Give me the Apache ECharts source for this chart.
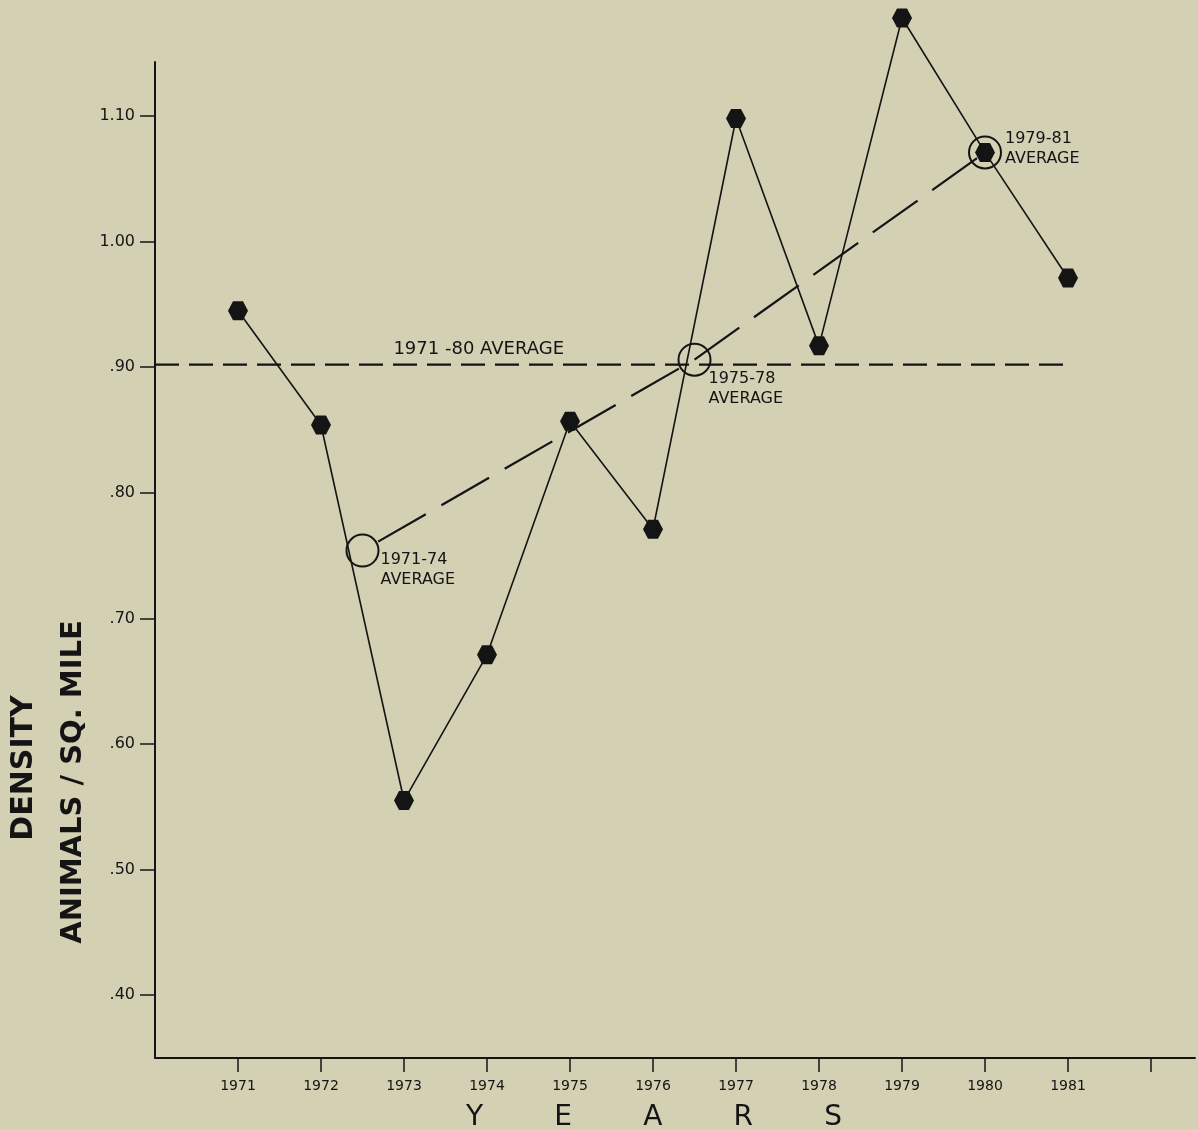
<!DOCTYPE html>
<html>
<head>
<meta charset="utf-8">
<script src="https://cdn.jsdelivr.net/npm/echarts@6/dist/echarts.min.js"></script>
<style>
  html, body { margin: 0; padding: 0; background: #d3d0b4; }
  #chart { width: 1198px; height: 1129px; }
</style>
</head>
<body>
<div id="chart"></div>
<script>
// ---- data ----
const years = [1971, 1972, 1973, 1974, 1975, 1976, 1977, 1978, 1979, 1980, 1981];
const density = [0.945, 0.854, 0.555, 0.671, 0.857, 0.771, 1.098, 0.917, 1.178, 1.071, 0.971];

const overallAvgLabel = '1971 -80 AVERAGE';
const overallAvgValue = 0.902;
const overallAvgSpan = [1970, 1981];
const overallAvgLabelYear = 1973.9;

const periodAvgYears = [1972.5, 1976.5, 1980];
const periodAvgValues = [0.754, 0.906, 1.071];
const periodAvgLabels = ['1971-74\nAVERAGE', '1975-78\nAVERAGE', '1979-81\nAVERAGE'];

const xTickValues = [1971, 1972, 1973, 1974, 1975, 1976, 1977, 1978, 1979, 1980, 1981, 1982];
const xLabelValues = [1971, 1972, 1973, 1974, 1975, 1976, 1977, 1978, 1979, 1980, 1981];
const yTickValues = [0.4, 0.5, 0.6, 0.7, 0.8, 0.9, 1.0, 1.1];
const yTickLabels = ['.40', '.50', '.60', '.70', '.80', '.90', '1.00', '1.10'];

const yTitleLines = ['DENSITY', 'ANIMALS / SQ. MILE'];
const xTitle = 'Y        E        A        R        S';

// ---- chart ----
const INK = '#141414';
const FONT = '"DejaVu Sans", "Liberation Sans", sans-serif';
const hexagon = 'path://M25,0 L75,0 L100,43.3 L75,86.6 L25,86.6 L0,43.3 Z';

const chart = echarts.init(document.getElementById('chart'), null, { renderer: 'canvas' });

const periodLabelOffsets = [[1, 19], [-3, 29], [3, -4]];

const option = {
  backgroundColor: '#d3d0b4',
  animation: false,
  grid: { left: 155, right: 3, top: 62, bottom: 71, containLabel: false },
  xAxis: {
    type: 'value',
    min: 1970,
    max: 1982.53,
    splitLine: { show: false },
    axisLine: { show: true, onZero: false, lineStyle: { color: INK, width: 2 } },
    axisTick: { show: true, length: 14, customValues: xTickValues, lineStyle: { color: INK, width: 1.5 } },
    axisLabel: {
      show: true, customValues: xLabelValues, margin: 21,
      color: INK, fontFamily: FONT, fontSize: 14,
      formatter: v => String(Math.round(v))
    }
  },
  yAxis: {
    type: 'value',
    min: 0.35,
    max: 1.143,
    splitLine: { show: false },
    axisLine: { show: true, onZero: false, lineStyle: { color: INK, width: 2 } },
    axisTick: { show: true, length: 15, customValues: yTickValues, lineStyle: { color: INK, width: 1.5 } },
    axisLabel: {
      show: true, customValues: yTickValues, margin: 20,
      color: INK, fontFamily: FONT, fontSize: 16,
      formatter: v => {
        const i = yTickValues.findIndex(t => Math.abs(t - v) < 1e-6);
        return i >= 0 ? yTickLabels[i] : '';
      }
    }
  },
  series: [
    {
      name: 'overall average',
      type: 'line',
      data: overallAvgSpan.map(x => [x, overallAvgValue]),
      showSymbol: false,
      symbol: 'none',
      lineStyle: { color: INK, width: 2.2, type: [24, 10] },
      z: 2
    },
    {
      name: 'overall average label',
      type: 'scatter',
      data: [[overallAvgLabelYear, overallAvgValue]],
      symbolSize: 0,
      itemStyle: { opacity: 1 },
      label: {
        show: true, position: 'top', distance: 6,
        formatter: overallAvgLabel,
        color: INK, fontFamily: FONT, fontSize: 18
      },
      z: 3
    },
    {
      name: 'period averages trend',
      type: 'line',
      data: periodAvgYears.map((x, i) => [x, periodAvgValues[i]]),
      showSymbol: false,
      symbol: 'none',
      lineStyle: { color: INK, width: 2.2, type: [55, 18], dashOffset: 55 },
      z: 2
    },
    {
      name: 'period average circles',
      type: 'scatter',
      data: periodAvgYears.map((x, i) => ({
        value: [x, periodAvgValues[i]],
        label: { offset: periodLabelOffsets[i] }
      })),
      symbol: 'circle',
      symbolSize: 32,
      itemStyle: { color: 'rgba(0,0,0,0)', borderColor: INK, borderWidth: 2, opacity: 1 },
      label: {
        show: true, position: 'right', distance: 0,
        formatter: p => periodAvgLabels[p.dataIndex],
        color: INK, fontFamily: FONT, fontSize: 16, lineHeight: 20, align: 'left'
      },
      z: 4
    },
    {
      name: 'density',
      type: 'line',
      data: years.map((y, i) => [y, density[i]]),
      clip: false,
      symbol: hexagon,
      symbolSize: [20, 19],
      showSymbol: true,
      itemStyle: { color: INK, opacity: 1 },
      lineStyle: { color: INK, width: 1.6 },
      z: 5
    }
  ],
  graphic: [
    {
      type: 'text', x: 24, y: 768, rotation: Math.PI / 2,
      style: { text: yTitleLines[0], fill: INK, font: 'bold 30px ' + FONT, textAlign: 'center', textVerticalAlign: 'middle' }
    },
    {
      type: 'text', x: 73, y: 782, rotation: Math.PI / 2,
      style: { text: yTitleLines[1], fill: INK, font: 'bold 29px ' + FONT, textAlign: 'center', textVerticalAlign: 'middle' }
    },
    {
      type: 'text', x: 654, y: 1118,
      style: { text: xTitle, fill: INK, font: '28px ' + FONT, textAlign: 'center', textVerticalAlign: 'middle' }
    }
  ]
};

chart.setOption(option);
</script>
</body>
</html>
